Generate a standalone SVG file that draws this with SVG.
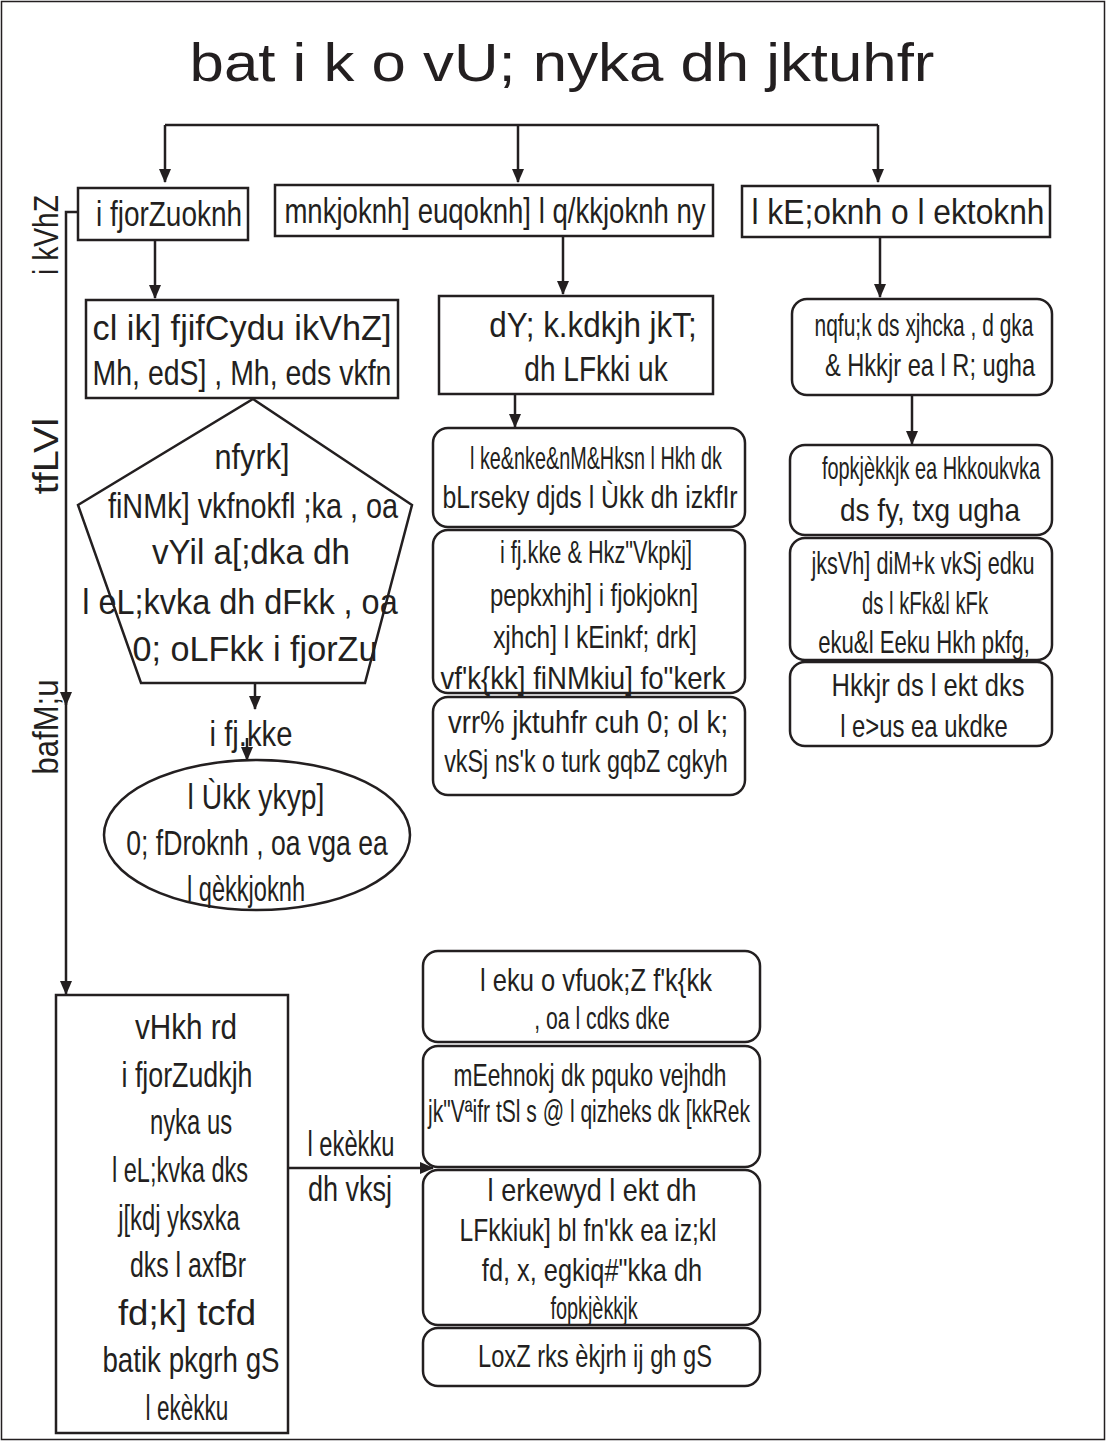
<svg xmlns="http://www.w3.org/2000/svg" width="1106" height="1441" viewBox="0 0 1106 1441">
<style>
.b{fill:#fff;stroke:#231f20;stroke-width:2.5}
.c{fill:none;stroke:#231f20;stroke-width:2.5}
text{font-family:"Liberation Sans","Arial",sans-serif;fill:#231f20;text-anchor:middle}
.L{font-size:36px}
.S{font-size:31px}
</style>
<defs>
<marker id="ah" markerWidth="14" markerHeight="12" refX="13" refY="6" orient="auto" markerUnits="userSpaceOnUse">
<path d="M0,0 L14,6 L0,12 Z" fill="#231f20"/>
</marker>
</defs>
<rect x="1.5" y="1.5" width="1103" height="1438" fill="#fff" stroke="#231f20" stroke-width="1.5"/>
<text transform="translate(562,81) scale(0.8,1)" font-size="54" textLength="931" lengthAdjust="spacingAndGlyphs">bat i k o vU;  nyka dh jktuhfr</text>

<g id="connectors">
<path class="c" d="M165,125 H878"/>
<path class="c" d="M165,125 V182" marker-end="url(#ah)"/>
<path class="c" d="M518,125 V182" marker-end="url(#ah)"/>
<path class="c" d="M878,125 V182" marker-end="url(#ah)"/>
<path class="c" d="M155,240 V298" marker-end="url(#ah)"/>
<path class="c" d="M563,236 V294" marker-end="url(#ah)"/>
<path class="c" d="M880,237 V297" marker-end="url(#ah)"/>
<path class="c" d="M515,394 V427" marker-end="url(#ah)"/>
<path class="c" d="M912,395 V444" marker-end="url(#ah)"/>
<path class="c" d="M255,683 V709" marker-end="url(#ah)"/>
<path class="c" d="M247,738 V760" marker-end="url(#ah)"/>
<path class="c" d="M78,212 H66 V705" marker-end="url(#ah)"/>
<path class="c" d="M66,700 V994" marker-end="url(#ah)"/>
<path class="c" d="M288,1168 H433" marker-end="url(#ah)"/>
<text class="L" transform="translate(351,1156) scale(0.72,1)" textLength="121" lengthAdjust="spacingAndGlyphs">l ekèkku</text>
<text class="L" transform="translate(350,1201) scale(0.72,1)" textLength="117" lengthAdjust="spacingAndGlyphs">dh vksj</text>
<text class="L" transform="translate(58,235) rotate(-90) scale(0.72,1)" textLength="111" lengthAdjust="spacingAndGlyphs">i kVhZ</text>
<text class="L" transform="translate(58,456) rotate(-90) scale(0.72,1)" textLength="106" lengthAdjust="spacingAndGlyphs">tfLVl</text>
<text class="L" transform="translate(58,727) rotate(-90) scale(0.72,1)" textLength="132" lengthAdjust="spacingAndGlyphs">bafM;u</text>
</g>

<g id="n-parivartanvadi">
<rect class="b" x="78" y="188" width="170" height="52"/>
<text class="L" transform="translate(169,226) scale(0.72,1)" textLength="203" lengthAdjust="spacingAndGlyphs">i fjorZuoknh</text>
</g>
<g id="n-udarvadi">
<rect class="b" x="275" y="185" width="438" height="51"/>
<text class="L" transform="translate(495,223) scale(0.72,1)" textLength="585" lengthAdjust="spacingAndGlyphs">mnkjoknh] euqoknh] l q/kkjoknh ny</text>
</g>
<g id="n-samyavadi">
<rect class="b" x="742" y="186" width="308" height="51"/>
<text class="L" transform="translate(898,224) scale(0.72,1)" textLength="407" lengthAdjust="spacingAndGlyphs">l kE;oknh o l ektoknh</text>
</g>

<g id="n-bsp">
<rect class="b" x="86" y="300" width="312" height="98"/>
<text class="L" transform="translate(242,340) scale(0.72,1)" textLength="415" lengthAdjust="spacingAndGlyphs">cl ik] fjifCydu ikVhZ]</text>
<text class="L" transform="translate(242,385) scale(0.72,1)" textLength="415" lengthAdjust="spacingAndGlyphs">Mh, edS] , Mh, eds vkfn</text>
</g>
<g id="n-kalyankari">
<rect class="b" x="439" y="296" width="274" height="98"/>
<text class="L" transform="translate(593,337) scale(0.72,1)" textLength="288" lengthAdjust="spacingAndGlyphs">dY; k.kdkjh jkT;</text>
<text class="L" transform="translate(596,381) scale(0.72,1)" textLength="199" lengthAdjust="spacingAndGlyphs">dh LFkki uk</text>
</g>
<g id="n-duniya">
<rect class="b" x="792" y="299" width="260" height="96" rx="15"/>
<text class="S" transform="translate(924,336) scale(0.72,1)" textLength="304" lengthAdjust="spacingAndGlyphs">nqfu;k ds xjhcka , d gka</text>
<text class="S" transform="translate(930,376) scale(0.72,1)" textLength="292" lengthAdjust="spacingAndGlyphs">&amp; Hkkjr ea l R;  ugha</text>
</g>

<g id="n-dalit">
<polygon class="b" points="253,399 412,505 365,683 141,683 78,505"/>
<text class="L" transform="translate(252,469) scale(0.72,1)" textLength="104" lengthAdjust="spacingAndGlyphs">nfyrk]</text>
<text class="L" transform="translate(253,518) scale(0.72,1)" textLength="403" lengthAdjust="spacingAndGlyphs">fiNMk] vkfnokfl ;ka , oa</text>
<text class="L" transform="translate(251,564) scale(0.72,1)" textLength="275" lengthAdjust="spacingAndGlyphs">vYil a[;dka dh</text>
<text class="L" transform="translate(240,614) scale(0.72,1)" textLength="438" lengthAdjust="spacingAndGlyphs">l eL;kvka dh dFkk  , oa</text>
<text class="L" transform="translate(255,661) scale(0.72,1)" textLength="340" lengthAdjust="spacingAndGlyphs">0; oLFkk  i fjorZu</text>
<text class="L" transform="translate(251,746) scale(0.72,1)" textLength="115" lengthAdjust="spacingAndGlyphs">i fj.kke</text>
</g>
<g id="n-satta">
<ellipse class="b" cx="257" cy="835" rx="153" ry="75"/>
<text class="L" transform="translate(256,809) scale(0.72,1)" textLength="190" lengthAdjust="spacingAndGlyphs">l Ùkk ykyp]</text>
<text class="L" transform="translate(257,855) scale(0.72,1)" textLength="363" lengthAdjust="spacingAndGlyphs">0; fDroknh , oa vga ea</text>
<text class="L" transform="translate(246,901) scale(0.72,1)" textLength="164" lengthAdjust="spacingAndGlyphs">l qèkkjoknh</text>
</g>

<g id="n-saam">
<rect class="b" x="433" y="428" width="312" height="99" rx="15"/>
<text class="S" transform="translate(596,469) scale(0.72,1)" textLength="350" lengthAdjust="spacingAndGlyphs">l ke&amp;nke&amp;nM&amp;Hksn  l Hkh dk</text>
<text class="S" transform="translate(590,508) scale(0.72,1)" textLength="410" lengthAdjust="spacingAndGlyphs">bLrseky djds l Ùkk dh izkfIr</text>
</g>
<g id="n-parinam">
<rect class="b" x="433" y="530" width="312" height="163" rx="15"/>
<text class="S" transform="translate(596,563) scale(0.72,1)" textLength="267" lengthAdjust="spacingAndGlyphs">i fj.kke &amp; Hkz"Vkpkj]</text>
<text class="S" transform="translate(594,606) scale(0.72,1)" textLength="289" lengthAdjust="spacingAndGlyphs">pepkxhjh] i fjokjokn]</text>
<text class="S" transform="translate(595,648) scale(0.72,1)" textLength="283" lengthAdjust="spacingAndGlyphs">xjhch] l kEinkf; drk]</text>
<text class="S" transform="translate(583,689) scale(0.72,1)" textLength="396" lengthAdjust="spacingAndGlyphs">vf'k{kk] fiNMkiu] fo"kerk</text>
</g>
<g id="n-atah">
<rect class="b" x="433" y="697" width="312" height="98" rx="15"/>
<text class="S" transform="translate(588,733) scale(0.72,1)" textLength="389" lengthAdjust="spacingAndGlyphs">vrr% jktuhfr cuh 0; ol k;</text>
<text class="S" transform="translate(586,772) scale(0.72,1)" textLength="394" lengthAdjust="spacingAndGlyphs">vkSj ns'k o turk gqbZ cgkyh</text>
</g>

<g id="n-vicharadhara">
<rect class="b" x="790" y="445" width="262" height="90" rx="15"/>
<text class="S" transform="translate(931,479) scale(0.72,1)" textLength="303" lengthAdjust="spacingAndGlyphs">fopkjèkkjk ea Hkkoukvka</text>
<text class="S" transform="translate(930,521) scale(0.72,1)" textLength="250" lengthAdjust="spacingAndGlyphs">ds fy,  txg ugha</text>
</g>
<g id="n-roti">
<rect class="b" x="790" y="538" width="262" height="122" rx="15"/>
<text class="S" transform="translate(923,574) scale(0.72,1)" textLength="310" lengthAdjust="spacingAndGlyphs">jksVh] diM+k vkSj edku</text>
<text class="S" transform="translate(925,614) scale(0.72,1)" textLength="175" lengthAdjust="spacingAndGlyphs">ds l kFk&amp;l kFk</text>
<text class="S" transform="translate(924,653) scale(0.72,1)" textLength="294" lengthAdjust="spacingAndGlyphs">eku&amp;l Eeku Hkh pkfg,</text>
</g>
<g id="n-bharat">
<rect class="b" x="790" y="662" width="262" height="84" rx="15"/>
<text class="S" transform="translate(928,696) scale(0.72,1)" textLength="268" lengthAdjust="spacingAndGlyphs">Hkkjr ds l ekt dks</text>
<text class="S" transform="translate(924,737) scale(0.72,1)" textLength="233" lengthAdjust="spacingAndGlyphs">l e&gt;us ea ukdke</text>
</g>

<g id="n-abhi">
<rect class="b" x="56" y="995" width="232" height="438"/>
<text class="L" transform="translate(186,1039) scale(0.72,1)" textLength="142" lengthAdjust="spacingAndGlyphs">vHkh rd</text>
<text class="L" transform="translate(187,1087) scale(0.72,1)" textLength="182" lengthAdjust="spacingAndGlyphs">i fjorZudkjh</text>
<text class="L" transform="translate(191,1134) scale(0.72,1)" textLength="114" lengthAdjust="spacingAndGlyphs">nyka us</text>
<text class="L" transform="translate(180,1182) scale(0.72,1)" textLength="189" lengthAdjust="spacingAndGlyphs">l eL;kvka dks</text>
<text class="L" transform="translate(179,1230) scale(0.72,1)" textLength="169" lengthAdjust="spacingAndGlyphs">j[kdj yksxka</text>
<text class="L" transform="translate(188,1277) scale(0.72,1)" textLength="161" lengthAdjust="spacingAndGlyphs">dks l axfBr</text>
<text class="L" transform="translate(187,1325) scale(0.72,1)" textLength="192" lengthAdjust="spacingAndGlyphs">fd;k] tcfd</text>
<text class="L" transform="translate(191,1372) scale(0.72,1)" textLength="246" lengthAdjust="spacingAndGlyphs">batik pkgrh gS</text>
<text class="L" transform="translate(187,1420) scale(0.72,1)" textLength="115" lengthAdjust="spacingAndGlyphs">l ekèkku</text>
</g>

<g id="n-saman">
<rect class="b" x="423" y="951" width="337" height="91" rx="15"/>
<text class="S" transform="translate(596,991) scale(0.72,1)" textLength="322" lengthAdjust="spacingAndGlyphs">l eku o vfuok;Z f'k{kk</text>
<text class="S" transform="translate(602,1029) scale(0.72,1)" textLength="188" lengthAdjust="spacingAndGlyphs">, oa l cdks dke</text>
</g>
<g id="n-ummidvar">
<rect class="b" x="423" y="1046" width="337" height="121" rx="15"/>
<text class="S" transform="translate(590,1086) scale(0.72,1)" textLength="379" lengthAdjust="spacingAndGlyphs">mEehnokj dk pquko vejhdh</text>
<text class="S" transform="translate(589,1122) scale(0.72,1)" textLength="447" lengthAdjust="spacingAndGlyphs">jk"Vªifr tSl s @ l qizheks dk [kkRek</text>
</g>
<g id="n-samtamulak">
<rect class="b" x="423" y="1170" width="337" height="155" rx="15"/>
<text class="S" transform="translate(592,1201) scale(0.72,1)" textLength="290" lengthAdjust="spacingAndGlyphs">l erkewyd l ekt dh</text>
<text class="S" transform="translate(588,1241) scale(0.72,1)" textLength="357" lengthAdjust="spacingAndGlyphs">LFkkiuk] bl  fn'kk ea iz;kl</text>
<text class="S" transform="translate(592,1281) scale(0.72,1)" textLength="306" lengthAdjust="spacingAndGlyphs">fd,  x,  egkiq#"kka dh</text>
<text class="S" transform="translate(594,1319) scale(0.72,1)" textLength="121" lengthAdjust="spacingAndGlyphs">fopkjèkkjk</text>
</g>
<g id="n-swarg">
<rect class="b" x="423" y="1328" width="337" height="58" rx="15"/>
<text class="S" transform="translate(595,1367) scale(0.72,1)" textLength="325" lengthAdjust="spacingAndGlyphs">LoxZ rks èkjrh ij gh gS</text>
</g>
</svg>
